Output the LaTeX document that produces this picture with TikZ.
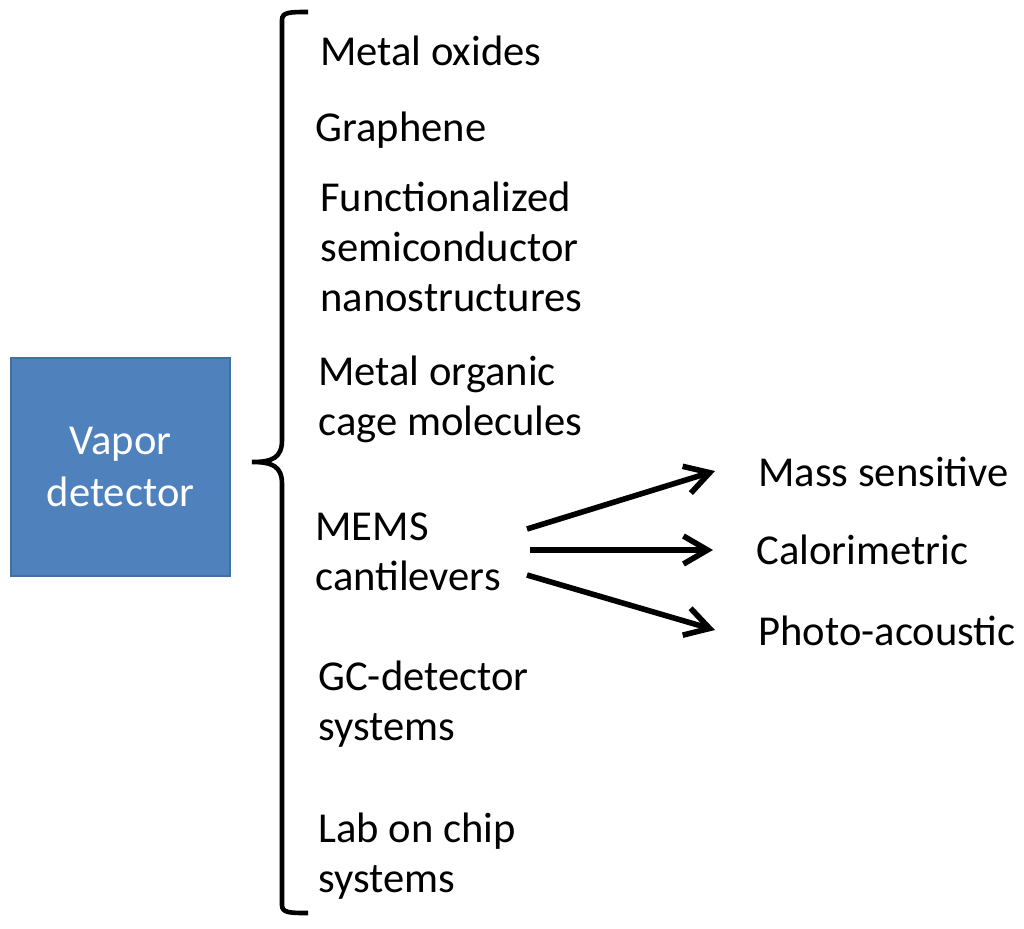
\documentclass[tikz,border=0pt]{standalone}
\usepackage{fontspec}
\setmainfont{Carlito}
\usetikzlibrary{arrows.meta}
\definecolor{boxblue}{HTML}{4F81BD}
\definecolor{boxedge}{HTML}{41719C}

\begin{document}
\begin{tikzpicture}[x=0.5pt,y=-0.5pt,
    item/.style={anchor=base west,align=left,inner sep=0pt,font=\fontsize{21.3}{25}\selectfont},
    arr/.style={-{Straight Barb[length=12pt,width=14pt]},line width=2.8pt}]
        \useasboundingbox (0,0) rectangle (1024,928);
        %caja principal
        \node[draw=boxedge,fill=boxblue,line width=0.8pt,minimum width=109.5pt,minimum height=109pt,
              text=white,align=center,font=\fontsize{21.3}{26}\selectfont] (vapor) at (120.5,467) {Vapor\\detector};

        %llave que agrupa los tipos de detector
        \draw[line width=2.3pt] (308,12) .. controls (290,12) and (282,12) .. (282,20)
            -- (282,440) .. controls (282,458) and (272,462) .. (252,462)
            .. controls (272,462) and (282,466) .. (282,484)
            -- (282,905) .. controls (282,913) and (290,913) .. (308,913);

        %tipos de detector (la base es la ultima linea)
        \node[item] (metal) at (320,65) {Metal oxides};
        \node[item] (graph) at (315,141) {Graphene};
        \node[item] (func) at (320,311) {Functionalized\\semiconductor\\nanostructures};
        \node[item] (mof) at (318,435) {Metal organic\\cage molecules};
        \node[item] (mems) at (315,590) {MEMS\\cantilevers};
        \node[item] (gc) at (318,740) {GC-detector\\systems};
        \node[item] (lab) at (318,892) {Lab on chip\\systems};

        %modos de los cantilevers
        \node[item] (mass) at (758,486) {Mass sensitive};
        \node[item] (calor) at (756,564) {Calorimetric};
        \node[item] (photo) at (758,645) {Photo-acoustic};

        \draw[arr] ([xshift=106pt,yshift=30.5pt]mems.base west) -- ([xshift=-21.5pt,yshift=7.5pt]mass.base west);
        \draw[arr] ([xshift=107.5pt,yshift=20pt]mems.base west) -- ([xshift=-21.5pt,yshift=7pt]calor.base west);
        \draw[arr] ([xshift=106pt,yshift=7.5pt]mems.base west) -- ([xshift=-21.5pt,yshift=7.5pt]photo.base west);
    \end{tikzpicture}
\end{document}
